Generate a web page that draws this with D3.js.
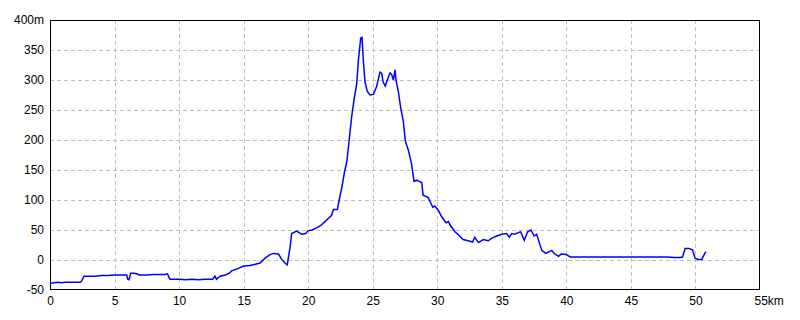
<!DOCTYPE html>
<html><head><meta charset="utf-8">
<script src="https://cdn.jsdelivr.net/npm/d3@7"></script>
<style>body{margin:0;background:#fff}svg{display:block}text{font-family:"Liberation Sans Narrow","Liberation Sans",sans-serif;font-size:12px;fill:#000}</style>
</head><body><svg id="c" width="800" height="320"></svg>
<script>
const distanceKm = [0,0.3,0.6,0.9,1.2,1.5,2.0,2.35,2.45,2.63,3.5,4.0,4.5,5.0,5.5,5.94,6.02,6.12,6.25,6.5,6.7,6.92,7.5,8.0,8.3,8.6,8.9,9.1,9.2,9.3,10.0,10.5,11.0,11.5,12.0,12.6,12.78,12.9,13.17,13.6,13.94,14.07,14.6,14.98,15.5,15.9,16.27,16.66,17.04,17.3,17.7,17.95,18.2,18.38,18.46,18.6,18.72,19.1,19.5,19.8,20.0,20.3,20.7,21.0,21.3,21.6,21.8,21.95,22.26,22.4,22.6,22.8,23.0,23.2,23.37,23.55,23.76,23.89,24.07,24.17,24.27,24.4,24.58,24.8,25.05,25.3,25.56,25.7,25.8,25.97,26.13,26.34,26.47,26.6,26.73,26.8,26.98,27.17,27.37,27.53,27.76,28.0,28.2,28.4,28.6,28.8,28.9,29.3,29.65,29.8,30.08,30.34,30.68,30.86,31.04,31.37,31.63,32.0,32.4,32.74,32.9,33.2,33.57,33.95,34.2,34.6,35.0,35.38,35.58,35.77,36.0,36.3,36.46,36.74,37.0,37.26,37.5,37.7,37.9,38.1,38.4,38.87,39.1,39.4,39.6,40.0,40.3,41.0,44.0,45.5,46.5,47.8,48.4,48.8,49.0,49.2,49.5,49.77,49.97,50.2,50.5,50.6,50.8];
const elevationM = [-39,-38,-37,-38,-37,-37,-37,-37,-35,-27,-27,-26,-26,-25,-25,-25,-32,-33,-22,-22,-23,-25,-25,-24,-24,-24,-24,-23,-28,-32,-32,-33,-32,-33,-32,-32,-27,-32,-27,-25,-21,-18,-14,-10,-9,-7,-5,3,9,11,10,1,-5,-8,3,22,44,48,43,44,49,50,54,58,64,70,74,84,84,100,120,145,165,205,239,267,294,333,370,371,333,297,281,275,276,289,313,311,297,290,300,312,309,300,317,300,281,253,231,198,183,161,131,133,131,129,108,104,88,90,83,72,62,64,57,47,42,34,32,30,38,29,34,32,36,40,43,44,38,44,43,46,47,33,47,50,40,43,29,16,11,16,10,6,10,9,5,5,5,5,5,5,4,4,5,19,19,17,3,1,1,6,14];
const xTicks = [0,5,10,15,20,25,30,35,40,45,50,55];
const yTicks = [-50,0,50,100,150,200,250,300,350,400];

const svg = d3.select("#c");
const L=50,R=760,T=20,B=290;
const x = d3.scaleLinear().domain([0,55]).range([L,R]);
const y = d3.scaleLinear().domain([-50,400]).range([B,T]);

const grid = svg.append("g").attr("stroke","#c0c0c0").attr("stroke-dasharray","4,3").attr("shape-rendering","crispEdges");
grid.selectAll(".gx").data(xTicks.slice(1,-1)).join("line")
  .attr("x1",d=>Math.round(x(d))+0.5).attr("x2",d=>Math.round(x(d))+0.5).attr("y1",T).attr("y2",B);
grid.selectAll(".gy").data(yTicks.slice(1,-1)).join("line")
  .attr("y1",d=>Math.round(y(d))+0.5).attr("y2",d=>Math.round(y(d))+0.5).attr("x1",L).attr("x2",R);

svg.append("rect").attr("x",L+0.5).attr("y",T+0.5).attr("width",R-L-1).attr("height",B-T-1)
  .attr("fill","none").attr("stroke","#000").attr("stroke-width",1).attr("shape-rendering","crispEdges");

const xAxis = d3.axisBottom(x).tickValues(xTicks).tickSize(0).tickPadding(6)
  .tickFormat(d=>d===55?"55km":String(d));
const gx = svg.append("g").attr("transform",`translate(0,${B})`).call(xAxis);
gx.select(".domain").remove();
gx.selectAll("text").style("font-size","12px").style("font-family",null)
  .attr("font-family","'Liberation Sans Narrow','Liberation Sans',sans-serif")
  .attr("text-anchor",d=>d===55?"start":"middle").attr("dx",d=>d===55?"-6":"0");

const yAxis = d3.axisLeft(y).tickValues(yTicks).tickSize(0).tickPadding(6)
  .tickFormat(d=>d===400?"400m":String(d));
const gy = svg.append("g").attr("transform",`translate(${L},0)`).call(yAxis);
gy.select(".domain").remove();
gy.selectAll("text").style("font-size","12px")
  .attr("font-family","'Liberation Sans Narrow','Liberation Sans',sans-serif");

const pts = distanceKm.map((d,i)=>[d,elevationM[i]]);
svg.append("path").datum(pts).attr("fill","none").attr("stroke","#0000ff").attr("stroke-width",1.5)
  .attr("d",d3.line().x(d=>x(d[0])).y(d=>y(d[1])));
</script></body></html>
